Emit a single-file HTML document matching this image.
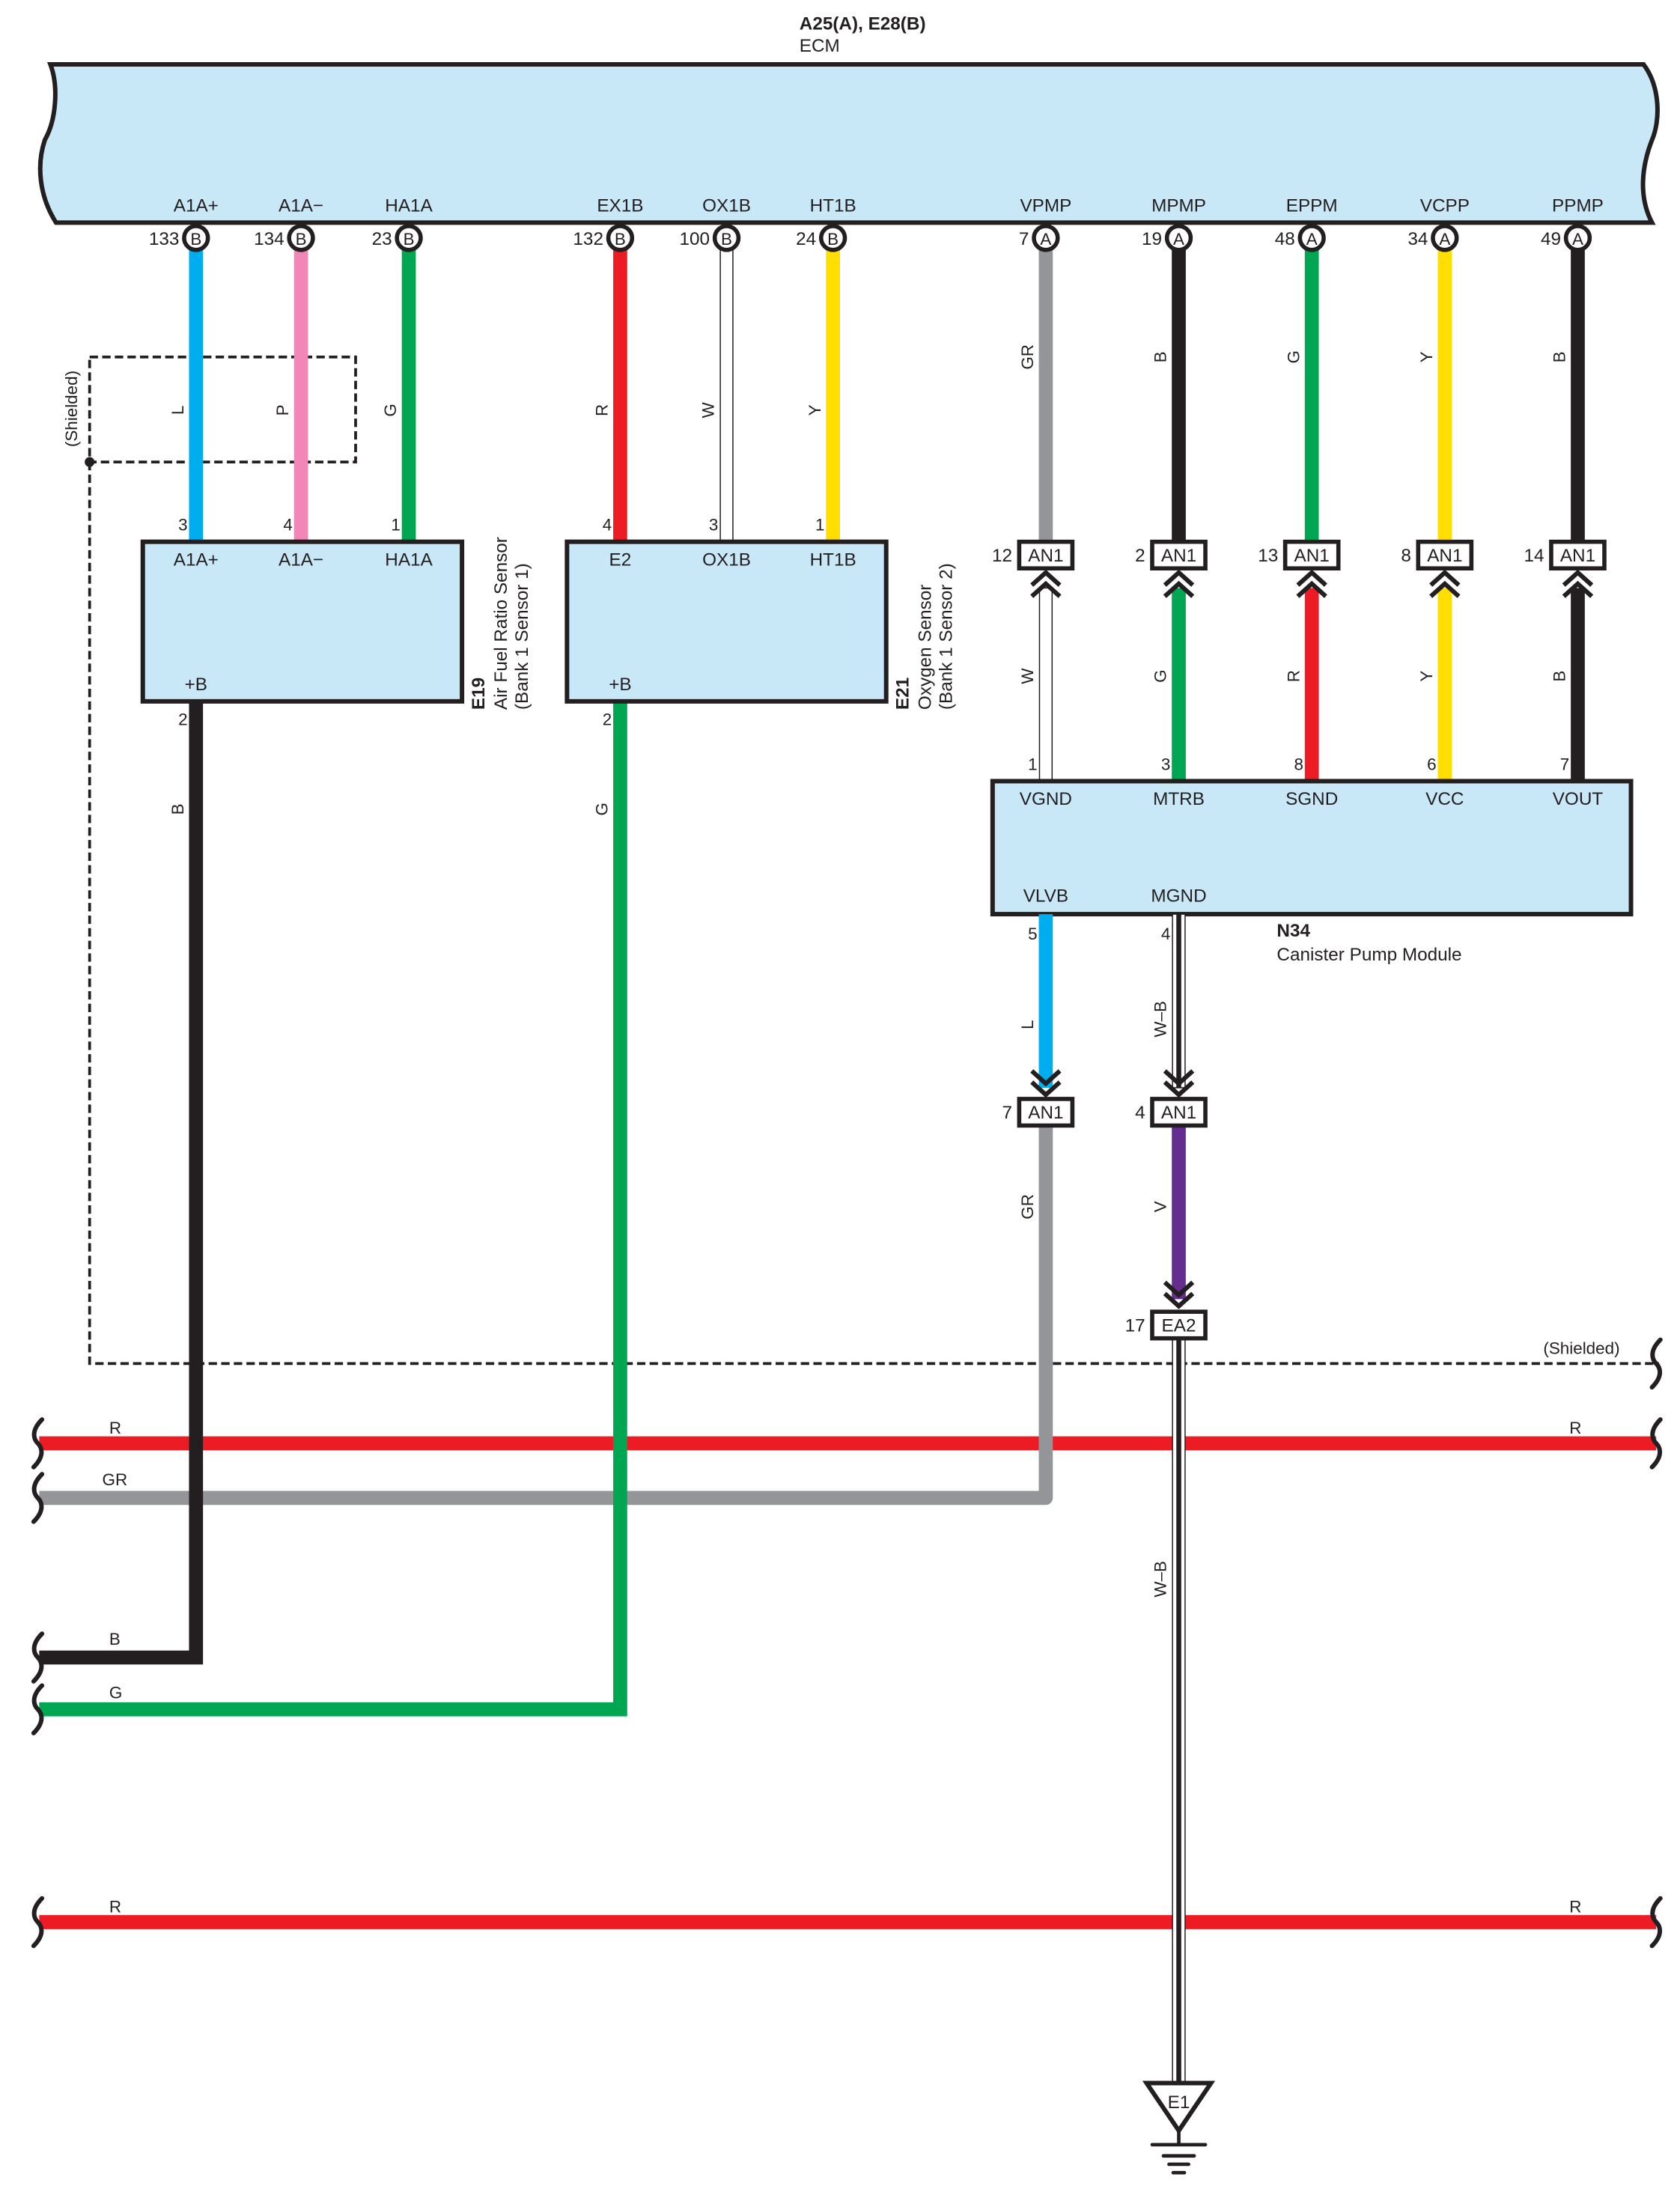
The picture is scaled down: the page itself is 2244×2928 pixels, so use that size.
<!DOCTYPE html>
<html><head><meta charset="utf-8"><style>
html,body{margin:0;padding:0;background:#fff}
svg{display:block}
text{font-family:"Liberation Sans",Arial,sans-serif;fill:#231f20}
</style></head><body>
<svg width="2244" height="2928" viewBox="0 0 1200 1565.8" xmlns="http://www.w3.org/2000/svg">
<defs>
<g id="brace"><path d="M3,-17 C-5,-9 -3,-3 0,0 C3,3 5,9 -3,17" fill="none" stroke="#231f20" stroke-width="3.2" stroke-linecap="round"/></g>
<g id="chevU"><polyline points="-10,9 0,0 10,9" fill="none" stroke="#231f20" stroke-width="3.2"/><polyline points="-10,17 0,8 10,17" fill="none" stroke="#231f20" stroke-width="3.2"/></g>
<g id="chevD"><polyline points="-10,-17 0,-8 10,-17" fill="none" stroke="#231f20" stroke-width="3.2"/><polyline points="-10,-9 0,0 10,-9" fill="none" stroke="#231f20" stroke-width="3.2"/></g>
</defs>

<!-- title -->
<text x="571" y="21" font-size="13" font-weight="bold">A25(A), E28(B)</text>
<text x="571" y="37" font-size="13">ECM</text>

<!-- ECM box -->
<path d="M36,46 L1174,46 C1186,62 1186,86 1180,100 C1173,118 1170,140 1180,159 L40,159 C28,140 26,118 32,100 C40,86 42,62 36,46 Z" fill="#c8e8f8" stroke="#231f20" stroke-width="3.2"/>
<g font-size="13" text-anchor="middle">
<text x="140" y="151">A1A+</text><text x="215" y="151">A1A−</text><text x="292" y="151">HA1A</text>
<text x="443" y="151">EX1B</text><text x="519" y="151">OX1B</text><text x="595" y="151">HT1B</text>
<text x="747" y="151">VPMP</text><text x="842" y="151">MPMP</text><text x="937" y="151">EPPM</text>
<text x="1032" y="151">VCPP</text><text x="1127" y="151">PPMP</text>
</g>

<!-- shield -->
<rect x="64" y="255" width="190" height="75" fill="none" stroke="#231f20" stroke-width="2" stroke-dasharray="6,3"/>
<polyline points="64,330 64,974 1185,974" fill="none" stroke="#231f20" stroke-width="2" stroke-dasharray="6,3"/>
<circle cx="64" cy="330" r="3.5" fill="#231f20"/>
<text x="55" y="292" font-size="12" text-anchor="middle" transform="rotate(-90 55 292)">(Shielded)</text>
<text x="1157" y="967" font-size="12" text-anchor="end">(Shielded)</text>
<use href="#brace" x="1183" y="974"/>

<!-- horizontal harness lines -->
<line x1="28" y1="1031" x2="1183" y2="1031" stroke="#ed1c24" stroke-width="10"/>
<polyline points="28,1070 747,1070 747,804" fill="none" stroke="#939598" stroke-width="10" stroke-linejoin="round"/>
<polyline points="28,1184 140,1184 140,501" fill="none" stroke="#231f20" stroke-width="10"/>
<polyline points="28,1221 443,1221 443,501" fill="none" stroke="#00a651" stroke-width="10"/>
<line x1="28" y1="1373" x2="1183" y2="1373" stroke="#ed1c24" stroke-width="10"/>
<use href="#brace" x="27" y="1031"/><use href="#brace" x="1183" y="1031"/>
<use href="#brace" x="27" y="1070"/>
<use href="#brace" x="27" y="1184"/>
<use href="#brace" x="27" y="1221"/>
<use href="#brace" x="27" y="1373"/><use href="#brace" x="1183" y="1373"/>
<g font-size="12">
<text x="78" y="1024">R</text><text x="1121" y="1024">R</text>
<text x="73" y="1061">GR</text><text x="78" y="1175">B</text><text x="78" y="1213">G</text>
<text x="78" y="1366">R</text><text x="1121" y="1366">R</text>
</g>

<!-- upper wires -->
<line x1="140" y1="178" x2="140" y2="387" stroke="#00aeef" stroke-width="10"/>
<line x1="215" y1="178" x2="215" y2="387" stroke="#f287b7" stroke-width="10"/>
<line x1="292" y1="178" x2="292" y2="387" stroke="#00a651" stroke-width="10"/>
<line x1="443" y1="178" x2="443" y2="387" stroke="#ed1c24" stroke-width="10"/>
<rect x="514.5" y="178" width="9" height="209" fill="#fff" stroke="#231f20" stroke-width="0.8"/>
<line x1="595" y1="178" x2="595" y2="387" stroke="#ffde00" stroke-width="10"/>
<line x1="747" y1="178" x2="747" y2="388" stroke="#939598" stroke-width="10"/>
<line x1="842" y1="178" x2="842" y2="388" stroke="#231f20" stroke-width="10"/>
<line x1="937" y1="178" x2="937" y2="388" stroke="#00a651" stroke-width="10"/>
<line x1="1032" y1="178" x2="1032" y2="388" stroke="#ffde00" stroke-width="10"/>
<line x1="1127" y1="178" x2="1127" y2="388" stroke="#231f20" stroke-width="10"/>

<!-- wire color labels upper -->
<g font-size="12" text-anchor="middle">
<text transform="translate(131,293) rotate(-90)">L</text>
<text transform="translate(206,293) rotate(-90)">P</text>
<text transform="translate(283,293) rotate(-90)">G</text>
<text transform="translate(434,293) rotate(-90)">R</text>
<text transform="translate(510,293) rotate(-90)">W</text>
<text transform="translate(586,293) rotate(-90)">Y</text>
<text transform="translate(738,255) rotate(-90)">GR</text>
<text transform="translate(833,255) rotate(-90)">B</text>
<text transform="translate(928,255) rotate(-90)">G</text>
<text transform="translate(1023,255) rotate(-90)">Y</text>
<text transform="translate(1118,255) rotate(-90)">B</text>
<text transform="translate(738,483) rotate(-90)">W</text>
<text transform="translate(833,483) rotate(-90)">G</text>
<text transform="translate(928,483) rotate(-90)">R</text>
<text transform="translate(1023,483) rotate(-90)">Y</text>
<text transform="translate(1118,483) rotate(-90)">B</text>
<text transform="translate(131,578) rotate(-90)">B</text>
<text transform="translate(434,578) rotate(-90)">G</text>
<text transform="translate(738,732) rotate(-90)">L</text>
<text transform="translate(833,728) rotate(-90)">W–B</text>
<text transform="translate(738,862) rotate(-90)">GR</text>
<text transform="translate(833,862) rotate(-90)">V</text>
<text transform="translate(833,1128) rotate(-90)">W–B</text>
</g>

<!-- ECM pin circles -->
<g font-size="13">
<g fill="#fff" stroke="#231f20" stroke-width="3">
<circle cx="140" cy="170" r="8.5"/><circle cx="215" cy="170" r="8.5"/><circle cx="292" cy="170" r="8.5"/>
<circle cx="443" cy="170" r="8.5"/><circle cx="519" cy="170" r="8.5"/><circle cx="595" cy="170" r="8.5"/>
<circle cx="747" cy="170" r="8.5"/><circle cx="842" cy="170" r="8.5"/><circle cx="937" cy="170" r="8.5"/>
<circle cx="1032" cy="170" r="8.5"/><circle cx="1127" cy="170" r="8.5"/>
</g>
<g text-anchor="middle" font-size="12">
<text x="140" y="175">B</text><text x="215" y="175">B</text><text x="292" y="175">B</text>
<text x="443" y="175">B</text><text x="519" y="175">B</text><text x="595" y="175">B</text>
<text x="747" y="175">A</text><text x="842" y="175">A</text><text x="937" y="175">A</text>
<text x="1032" y="175">A</text><text x="1127" y="175">A</text>
</g>
<g text-anchor="end">
<text x="128" y="175">133</text><text x="203" y="175">134</text><text x="280" y="175">23</text>
<text x="431" y="175">132</text><text x="507" y="175">100</text><text x="583" y="175">24</text>
<text x="735" y="175">7</text><text x="830" y="175">19</text><text x="925" y="175">48</text>
<text x="1020" y="175">34</text><text x="1115" y="175">49</text>
</g>
</g>

<!-- sensor boxes -->
<rect x="102" y="387" width="228" height="114" fill="#c8e8f8" stroke="#231f20" stroke-width="3.2"/>
<rect x="405" y="387" width="228" height="114" fill="#c8e8f8" stroke="#231f20" stroke-width="3.2"/>
<g font-size="13" text-anchor="middle">
<text x="140" y="404">A1A+</text><text x="215" y="404">A1A−</text><text x="292" y="404">HA1A</text>
<text x="140" y="493">+B</text>
<text x="443" y="404">E2</text><text x="519" y="404">OX1B</text><text x="595" y="404">HT1B</text>
<text x="443" y="493">+B</text>
</g>
<g font-size="12" text-anchor="end">
<text x="134" y="379">3</text><text x="209" y="379">4</text><text x="286" y="379">1</text>
<text x="134" y="518">2</text>
<text x="437" y="379">4</text><text x="513" y="379">3</text><text x="589" y="379">1</text>
<text x="437" y="518">2</text>
</g>
<g font-size="13">
<text transform="translate(346,507) rotate(-90)"><tspan font-weight="bold">E19</tspan></text>
<text transform="translate(362,507) rotate(-90)">Air Fuel Ratio Sensor</text>
<text transform="translate(377,507) rotate(-90)">(Bank 1 Sensor 1)</text>
<text transform="translate(649,507) rotate(-90)"><tspan font-weight="bold">E21</tspan></text>
<text transform="translate(665,507) rotate(-90)">Oxygen Sensor</text>
<text transform="translate(680,507) rotate(-90)">(Bank 1 Sensor 2)</text>
</g>

<!-- lower wires AN1 -> N34 -->
<rect x="742.5" y="420" width="9" height="138" fill="#fff" stroke="#231f20" stroke-width="0.8"/>
<line x1="842" y1="420" x2="842" y2="558" stroke="#00a651" stroke-width="10"/>
<line x1="937" y1="420" x2="937" y2="558" stroke="#ed1c24" stroke-width="10"/>
<line x1="1032" y1="420" x2="1032" y2="558" stroke="#ffde00" stroke-width="10"/>
<line x1="1127" y1="420" x2="1127" y2="558" stroke="#231f20" stroke-width="10"/>

<!-- AN1 upper connectors -->
<g font-size="13">
<g fill="#fff" stroke="#231f20" stroke-width="3">
<rect x="728" y="387" width="38" height="19"/><rect x="823" y="387" width="38" height="19"/>
<rect x="918" y="387" width="38" height="19"/><rect x="1013" y="387" width="38" height="19"/>
<rect x="1108" y="387" width="38" height="19"/>
</g>
<g text-anchor="middle">
<text x="747" y="401">AN1</text><text x="842" y="401">AN1</text><text x="937" y="401">AN1</text>
<text x="1032" y="401">AN1</text><text x="1127" y="401">AN1</text>
</g>
<g text-anchor="end">
<text x="723" y="401">12</text><text x="818" y="401">2</text><text x="913" y="401">13</text>
<text x="1008" y="401">8</text><text x="1103" y="401">14</text>
</g>
</g>
<use href="#chevU" x="747" y="409"/><use href="#chevU" x="842" y="409"/><use href="#chevU" x="937" y="409"/>
<use href="#chevU" x="1032" y="409"/><use href="#chevU" x="1127" y="409"/>

<!-- N34 -->
<rect x="709" y="558" width="456" height="95" fill="#c8e8f8" stroke="#231f20" stroke-width="3.2"/>
<g font-size="13" text-anchor="middle">
<text x="747" y="575">VGND</text><text x="842" y="575">MTRB</text><text x="937" y="575">SGND</text>
<text x="1032" y="575">VCC</text><text x="1127" y="575">VOUT</text>
<text x="747" y="644">VLVB</text><text x="842" y="644">MGND</text>
</g>
<g font-size="12" text-anchor="end">
<text x="741" y="550">1</text><text x="836" y="550">3</text><text x="931" y="550">8</text>
<text x="1026" y="550">6</text><text x="1121" y="550">7</text>
<text x="741" y="671">5</text><text x="836" y="671">4</text>
</g>
<text x="912" y="669" font-size="13" font-weight="bold">N34</text>
<text x="912" y="686" font-size="13">Canister Pump Module</text>

<!-- below N34 -->
<line x1="747" y1="653" x2="747" y2="777" stroke="#00aeef" stroke-width="10"/>
<rect x="837.5" y="653" width="9" height="124" fill="#fff" stroke="#231f20" stroke-width="0.8"/>
<line x1="842" y1="653" x2="842" y2="777" stroke="#231f20" stroke-width="3.5"/>
<use href="#chevD" x="747" y="782"/><use href="#chevD" x="842" y="782"/>
<line x1="842" y1="804" x2="842" y2="928" stroke="#662d91" stroke-width="10"/>
<use href="#chevD" x="842" y="933"/>
<rect x="837.5" y="955" width="9" height="533" fill="#fff" stroke="#231f20" stroke-width="0.8"/>
<line x1="842" y1="955" x2="842" y2="1488" stroke="#231f20" stroke-width="3.5"/>

<g font-size="13">
<g fill="#fff" stroke="#231f20" stroke-width="3">
<rect x="728" y="785" width="38" height="19"/><rect x="823" y="785" width="38" height="19"/>
<rect x="823" y="937" width="38" height="19"/>
</g>
<g text-anchor="middle"><text x="747" y="799">AN1</text><text x="842" y="799">AN1</text><text x="842" y="951">EA2</text></g>
<g text-anchor="end"><text x="723" y="799">7</text><text x="818" y="799">4</text><text x="818" y="951">17</text></g>
</g>

<!-- ground -->
<path d="M819,1488 L865,1488 L842,1522 Z" fill="#fff" stroke="#231f20" stroke-width="3.2" stroke-linejoin="miter"/>
<text x="842" y="1506" font-size="13" text-anchor="middle">E1</text>
<line x1="842" y1="1522" x2="842" y2="1532" stroke="#231f20" stroke-width="2.5"/>
<line x1="823" y1="1532" x2="861" y2="1532" stroke="#231f20" stroke-width="2.5" stroke-linecap="round"/>
<line x1="831" y1="1540" x2="853" y2="1540" stroke="#231f20" stroke-width="2.5" stroke-linecap="round"/>
<line x1="835" y1="1546" x2="849" y2="1546" stroke="#231f20" stroke-width="2.5" stroke-linecap="round"/>
<line x1="838" y1="1552" x2="846" y2="1552" stroke="#231f20" stroke-width="2.5" stroke-linecap="round"/>
</svg>
</body></html>
